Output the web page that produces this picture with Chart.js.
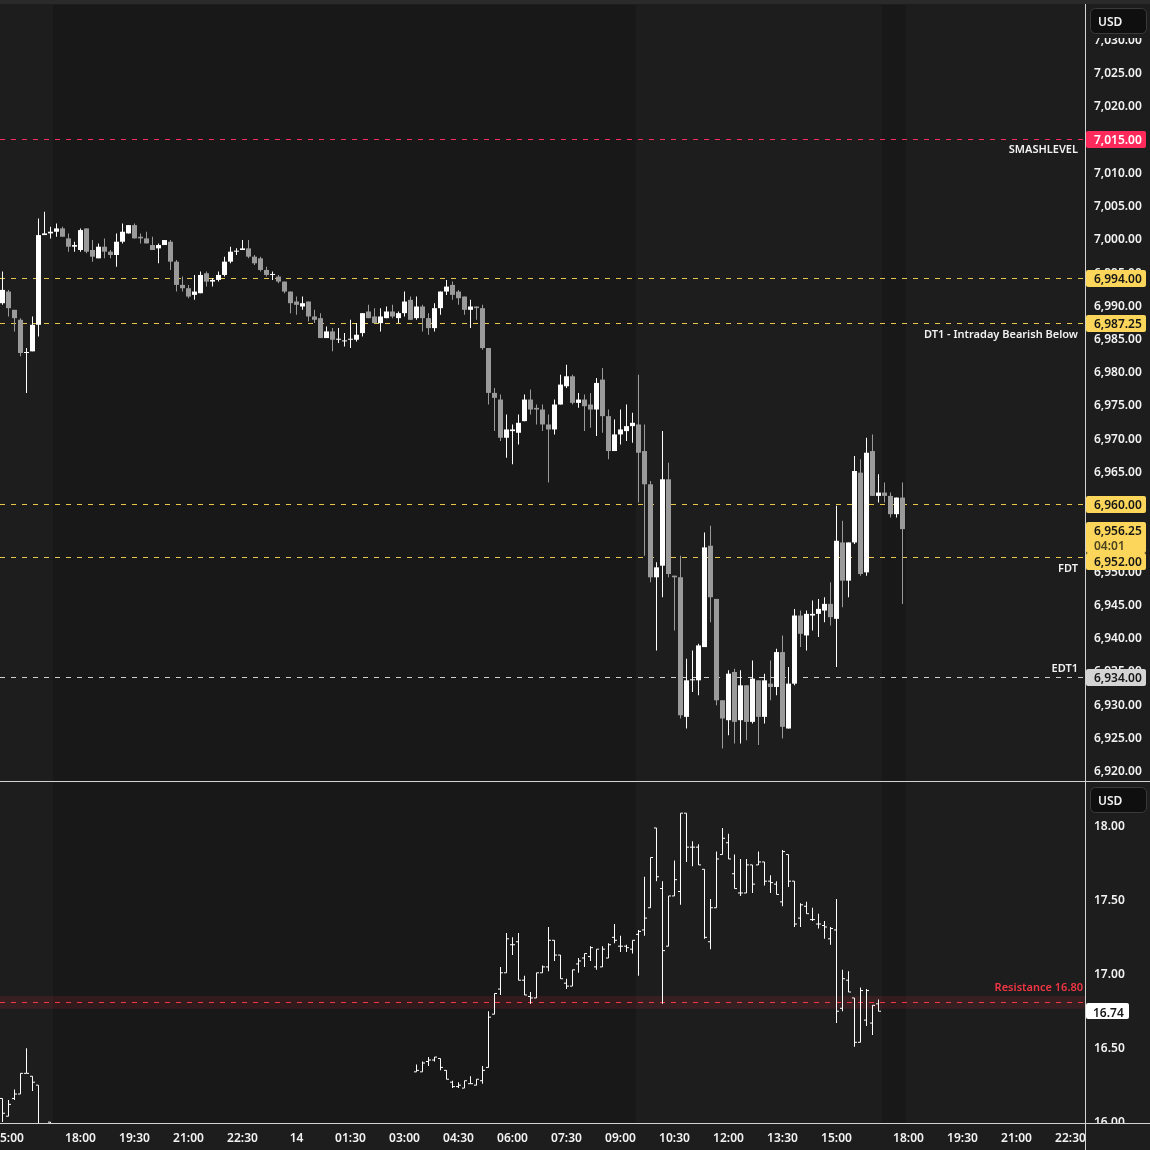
<!DOCTYPE html>
<html>
<head>
<meta charset="utf-8">
<script src="https://cdn.jsdelivr.net/npm/chart.js@4.4.1/dist/chart.umd.min.js"></script>
<style>
  html, body { margin:0; padding:0; background:#1d1d1d; }
  body { width:1150px; height:1150px; position:relative; overflow:hidden; }
  canvas { position:absolute; left:0; display:block; }
  #topChart { top:0; }
  #bottomChart { top:782px; }
</style>
</head>
<body>
<canvas id="topChart" width="1150" height="782"></canvas>
<canvas id="bottomChart" width="1150" height="368"></canvas>
<script>
// ---------------- DATA ----------------
// 10-minute bars; slot -1 = 14:50 (day 1), slot 0 = 15:00, ... consecutive slots
const firstSlot = -1;

const esOpen = [
  6990.25, 6992, 6989.25, 6987.75, 6982.75, 6983, 6987, 7000.5, 7000.75, 7001,
  7001.5, 7000, 6998.75, 6998.25, 7001.5, 6998.25, 6997, 6998.75, 6998, 6997.5,
  6999.5, 7000.75, 7002, 7000.25, 7000, 6999, 6998.5, 6999, 6999.5, 6996.5,
  6993, 6992.5, 6991.5, 6991.75, 6994.75, 6993.5, 6993.75, 6994.5, 6996.5, 6998,
  6998.25, 6998.5, 6997.25, 6997, 6995.25, 6994.5, 6994.25, 6993.5, 6992, 6990.5,
  6989.75, 6990.5, 6988.25, 6988, 6985, 6986, 6984.75, 6984.5, 6984.75, 6984.75,
  6985.75, 6989, 6988.25, 6987.25, 6988, 6989, 6988, 6988.75, 6990.75, 6988,
  6989.75, 6988, 6986.5, 6989.5, 6992, 6993, 6992, 6991.25, 6989.25, 6989.75,
  6989.5, 6983.5, 6976.75, 6975.75, 6970, 6971, 6970.75, 6972.5, 6975.75, 6974.5,
  6974.25, 6972, 6971.25, 6975, 6977.75, 6979.25, 6975.25, 6975.75, 6975, 6974.25,
  6978.75, 6973.25, 6968, 6970.5, 6971, 6971.75, 6972, 6968, 6963, 6949,
  6950.75, 6963.75, 6949.25, 6949, 6928, 6933.5, 6933.5, 6938.5, 6953.75, 6945.75,
  6930.5, 6927.5, 6934.75, 6927.5, 6932.75, 6927.25, 6933.5, 6928, 6933, 6932.5,
  6937.75, 6926.25, 6933, 6943.25, 6940.25, 6943.25, 6943.5, 6944, 6945, 6942.75,
  6954.25, 6948.5, 6954.25, 6964.75, 6949.75, 6968, 6961.25, 6961.75, 6961.25, 6958.5,
  6961
];
const esHigh = [
  6995, 6992.25, 6989.25, 6988, 6983.5, 6988.25, 7003, 7004, 7001.75, 7002.25,
  7001.75, 7000.75, 6999.5, 7001.5, 7001.5, 6999.75, 6999.25, 7000, 6998.25, 7000.75,
  7002.25, 7002, 7002.25, 7000.75, 7001, 7000.25, 6999.25, 6999.75, 6999.75, 6996.75,
  6994.25, 6993, 6994.5, 6995, 6995, 6994, 6995, 6997.25, 6998.75, 6998.5,
  6999.75, 6999.75, 6997.5, 6997.25, 6995.75, 6995, 6994.5, 6993.5, 6992, 6991.25,
  6991.25, 6990.5, 6989.25, 6988.75, 6986.75, 6986.5, 6986.5, 6985.75, 6987.75, 6987.25,
  6988.75, 6990, 6989.5, 6989.5, 6989.75, 6990, 6989, 6992, 6991.25, 6991.25,
  6990, 6988.75, 6990.25, 6992, 6993.75, 6993.5, 6992.25, 6991.25, 6990.75, 6989.75,
  6990, 6983.5, 6977.5, 6976.5, 6973.5, 6972, 6973.5, 6976.5, 6977.25, 6975,
  6975, 6973.5, 6975.75, 6979.5, 6981, 6979.5, 6976.75, 6976.5, 6976.75, 6979,
  6980.5, 6974.25, 6972.75, 6974.25, 6975, 6973.75, 6979.5, 6972, 6963.5, 6951.25,
  6971, 6966.25, 6949.25, 6952.25, 6936.75, 6938, 6939, 6955.75, 6956.75, 6945.75,
  6930.5, 6935, 6935.25, 6935, 6932.75, 6936.5, 6933.5, 6934.5, 6936.5, 6938.25,
  6940.25, 6935.5, 6944.25, 6944, 6944, 6945.5, 6945.75, 6946, 6948.25, 6959.75,
  6957.5, 6954.25, 6967.25, 6966.75, 6970, 6970.5, 6964.5, 6963.25, 6961.75, 6961,
  6963.25
];
const esLow = [
  6990, 6988.25, 6986, 6982.25, 6976.75, 6983, 6985.25, 7000.5, 7000, 7000.25,
  7000.25, 6998, 6998, 6998, 6997.75, 6996.5, 6997, 6997, 6997, 6995.75,
  6999.25, 7000.75, 7000, 6999.25, 6999.25, 6998.25, 6996.25, 6999, 6995.25, 6992,
  6992, 6991, 6990.75, 6991.75, 6992.75, 6992.75, 6993.5, 6994.25, 6996.25, 6997.5,
  6998.25, 6997, 6996, 6995, 6994.25, 6993.75, 6993.25, 6991.75, 6988.75, 6988.5,
  6989.25, 6987.5, 6987.25, 6985, 6985, 6983, 6984.25, 6983.75, 6983.5, 6984.5,
  6985.25, 6988, 6987.25, 6986, 6988, 6988, 6987.25, 6988.25, 6987.75, 6987.75,
  6986, 6985.5, 6986, 6988.5, 6991.5, 6990.75, 6990, 6988.5, 6986.5, 6987.75,
  6983.25, 6975, 6971, 6969.5, 6967, 6966, 6969, 6972.5, 6973.5, 6972,
  6971, 6963.25, 6970.5, 6975, 6977.5, 6975, 6974.5, 6971, 6971.5, 6970.25,
  6970.75, 6966.75, 6968, 6969, 6969.5, 6969.25, 6960.25, 6952.25, 6948.25, 6938,
  6946, 6949, 6941, 6927.75, 6926.25, 6931.75, 6931.25, 6938.5, 6942.25, 6929.75,
  6923.25, 6925.25, 6924, 6924, 6924.5, 6927, 6923.75, 6927, 6930.5, 6931.25,
  6924.75, 6926.25, 6932.75, 6938.5, 6938, 6941, 6940, 6942.25, 6941.75, 6935.5,
  6944.5, 6946, 6954, 6949.25, 6949.25, 6961.25, 6960.25, 6960.25, 6958, 6958,
  6945
];
const esClose = [
  6992.25, 6989.5, 6988, 6982.75, 6982.75, 6987, 7000.5, 7000.75, 7001, 7001.5,
  7000.25, 6998.75, 6999, 7001.25, 6998, 6997.25, 6998.75, 6998, 6997.5, 6999.5,
  7001, 7002, 7000, 7000, 6999.25, 6998.25, 6999, 6999.75, 6996.5, 6993,
  6992.5, 6991.25, 6992, 6994.5, 6993.5, 6993.75, 6994.5, 6996.5, 6998, 6998,
  6998.5, 6997.25, 6996.25, 6995.25, 6994.5, 6994.5, 6993.5, 6992, 6990.25, 6990,
  6990.25, 6988.25, 6987.75, 6985, 6986, 6984.75, 6984.75, 6984.5, 6984.75, 6985.5,
  6988.75, 6988, 6987.25, 6988.25, 6989, 6988.25, 6988.75, 6990.5, 6987.75, 6989.75,
  6988, 6986.5, 6989.5, 6992, 6992.75, 6991.5, 6991, 6989.25, 6989.75, 6989.5,
  6983.5, 6976.75, 6976, 6970, 6971.25, 6971.25, 6972.25, 6975.75, 6974.25, 6974.25,
  6972, 6971.25, 6975, 6978, 6979.25, 6975.25, 6975.75, 6974.75, 6974.25, 6978.25,
  6973.25, 6968, 6970.5, 6971.25, 6971.75, 6972.25, 6967.75, 6963, 6949, 6950.5,
  6963.75, 6949.5, 6949, 6928.25, 6933.5, 6933.5, 6938.75, 6953.5, 6946, 6930.5,
  6927.75, 6934.5, 6927.25, 6932.75, 6927.25, 6933.75, 6928, 6933.5, 6932.5, 6937.75,
  6926.5, 6933, 6943.25, 6940.5, 6943.5, 6943.5, 6944.25, 6945, 6943, 6954.5,
  6948.5, 6954.25, 6965, 6949.5, 6967.75, 6961.25, 6961.75, 6961.25, 6958.5, 6961,
  6956.25
];

// Lower pane (same slots as above; null = no bar)
const vixOpen = [
  16.15, 16.03, 16.15, 16.18, 16.32, 16.30, 16.24, 15.96, 15.99,
  null, null, null, null, null, null, null, null, null, null,
  null, null, null, null, null, null, null, null, null, null,
  null, null, null, null, null, null, null, null, null, null,
  null, null, null, null, null, null, null, null, null, null,
  null, null, null, null, null, null, null, null, null, null,
  null, null, null, null, null, null, null, null, null, null,
  16.33, 16.33, 16.40, 16.41, 16.42, 16.34, 16.26, 16.23, 16.22, 16.25, 16.24, 16.27,
  16.36, 16.72, 16.89, 17.00, 17.19, 17.21, 16.95, 16.84, 16.83, 17.00,
  17.04, 17.22, 17.12, 16.93, 16.91, 17.06, 17.10, 17.11, 17.04, 17.04,
  17.10, 17.24, 17.18, 17.18, 17.16, 17.26, 17.29, 17.44, 17.98, 17.57,
  17.18, 17.52, 17.55, 18.08, 17.85, 17.85, 17.70, 17.21, 17.44, 17.80,
  17.88, 17.67, 17.54, 17.54, 17.73, 17.73, 17.75, 17.62, 17.60, 17.48,
  17.80, 17.62, 17.37, 17.45, 17.36, 17.33, 17.32, 17.23, 17.29, 16.76,
  16.95, 16.83, 16.53, 16.68, 16.66, 16.79,
  null, null, null, null
];
const vixHigh = [
  16.15, 16.14, 16.21, 16.32, 16.49, 16.30, 16.24, 15.97, 15.99,
  null, null, null, null, null, null, null, null, null, null,
  null, null, null, null, null, null, null, null, null, null,
  null, null, null, null, null, null, null, null, null, null,
  null, null, null, null, null, null, null, null, null, null,
  null, null, null, null, null, null, null, null, null, null,
  null, null, null, null, null, null, null, null, null, null,
  16.38, 16.40, 16.43, 16.43, 16.42, 16.34, 16.27, 16.26, 16.27, 16.30, 16.28, 16.37,
  16.74, 16.86, 17.04, 17.27, 17.24, 17.27, 16.98, 16.87, 17.00, 17.05,
  17.31, 17.22, 17.12, 16.96, 17.02, 17.10, 17.13, 17.18, 17.16, 17.18,
  17.20, 17.33, 17.25, 17.19, 17.22, 17.29, 17.65, 17.78, 17.98, 17.62,
  17.52, 17.76, 18.08, 18.08, 17.89, 17.87, 17.70, 17.50, 17.82, 17.98,
  17.94, 17.80, 17.77, 17.77, 17.73, 17.82, 17.75, 17.66, 17.62, 17.83,
  17.80, 17.62, 17.47, 17.48, 17.44, 17.40, 17.35, 17.31, 17.50, 17.02,
  17.01, 16.83, 16.90, 16.89, 16.78, 16.82,
  null, null, null, null
];
const vixLow = [
  15.99, 16.03, 16.14, 16.18, 16.32, 16.20, 15.90, 15.93, 15.95,
  null, null, null, null, null, null, null, null, null, null,
  null, null, null, null, null, null, null, null, null, null,
  null, null, null, null, null, null, null, null, null, null,
  null, null, null, null, null, null, null, null, null, null,
  null, null, null, null, null, null, null, null, null, null,
  null, null, null, null, null, null, null, null, null, null,
  16.33, 16.33, 16.37, 16.40, 16.34, 16.28, 16.22, 16.22, 16.22, 16.25, 16.24, 16.25,
  16.36, 16.72, 16.85, 17.00, 17.12, 16.95, 16.85, 16.79, 16.83, 17.00,
  17.01, 17.08, 16.96, 16.89, 16.91, 17.00, 17.04, 17.08, 17.02, 17.04,
  17.10, 17.20, 17.14, 17.14, 17.13, 16.98, 17.25, 17.44, 17.62, 16.79,
  17.18, 17.52, 17.46, 17.75, 17.72, 17.73, 17.23, 17.16, 17.44, 17.80,
  17.77, 17.57, 17.52, 17.54, 17.54, 17.73, 17.59, 17.54, 17.53, 17.45,
  17.58, 17.31, 17.31, 17.40, 17.35, 17.30, 17.23, 17.19, 16.66, 16.74,
  16.87, 16.50, 16.53, 16.64, 16.58, 16.74,
  null, null, null, null
];
const vixClose = [
  16.05, 16.11, 16.18, 16.32, 16.32, 16.26, 15.96, 15.95, 15.97,
  null, null, null, null, null, null, null, null, null, null,
  null, null, null, null, null, null, null, null, null, null,
  null, null, null, null, null, null, null, null, null, null,
  null, null, null, null, null, null, null, null, null, null,
  null, null, null, null, null, null, null, null, null, null,
  null, null, null, null, null, null, null, null, null, null,
  16.34, 16.39, 16.41, 16.43, 16.36, 16.28, 16.23, 16.24, 16.27, 16.25, 16.28, 16.34,
  16.70, 16.86, 17.00, 17.23, 17.19, 16.95, 16.85, 16.83, 17.00, 17.04,
  17.22, 17.12, 16.96, 16.91, 17.02, 17.08, 17.13, 17.17, 17.16, 17.16,
  17.19, 17.22, 17.18, 17.17, 17.22, 17.28, 17.37, 17.78, 17.65, 17.15,
  17.52, 17.63, 18.08, 17.85, 17.85, 17.73, 17.24, 17.44, 17.77, 17.91,
  17.77, 17.57, 17.54, 17.73, 17.60, 17.75, 17.62, 17.61, 17.53, 17.82,
  17.62, 17.33, 17.46, 17.40, 17.36, 17.33, 17.31, 17.30, 16.74, 16.96,
  16.87, 16.53, 16.88, 16.88, 16.78, 16.74,
  null, null, null, null
];

const timeTickSlots  = [0, 12, 21, 30, 39, 48, 57, 66, 75, 84, 93, 102, 111, 120, 129, 138, 150, 159, 168, 177];
const timeTickLabels = ['15:00','18:00','19:30','21:00','22:30','14','01:30','03:00','04:30','06:00','07:30','09:00','10:30','12:00','13:30','15:00','18:00','19:30','21:00','22:30'];

const esLevels      = [7015, 6994, 6987.25, 6960, 6952, 6934];
const esLevelNames  = ['SMASHLEVEL', '', 'DT1 - Intraday Bearish Below', '', 'FDT', 'EDT1'];
const esLastPrice   = 6956.25;
const barCountdown  = '04:01';
const vixResistance = 16.80;
const vixResistanceName = 'Resistance 16.80';
const vixLastPrice  = 16.74;
const currencyLabel = 'USD';
// extended-hours bar ranges (in slots) shaded darker
const extendedSessions = [[7.5, 104.5], [145.5, 149.5]];

// ---------------- STYLE ----------------
const ST = {
  bg: '#1d1d1d', bgExt: '#181818', strip: '#2a2a2a',
  up: '#ffffff', down: '#9a9a9a', text: '#f2f2f2', border: '#d2d2d2',
  levelLine: ['#ff2d5f', '#e8c64a', '#e8c64a', '#e8c64a', '#e8c64a', '#cfcfcf'],
  levelBox:  ['#ff2a5c', '#fbd65a', '#fbd65a', '#fbd65a', '#fbd65a', '#d4d4d4'],
  levelBoxText: ['#ffffff', '#161616', '#161616', '#161616', '#161616', '#161616'],
  levelNameAbove: [false, false, false, false, false, true],
  red: '#f23645', font: '"Noto Sans", "DejaVu Sans", sans-serif',
  textDy: 1.5
};

Chart.defaults.font.family = ST.font;
Chart.defaults.font.size = 12;

function fmtPrice(v) {
  const p = v.toFixed(2).split('.');
  return p[0].replace(/\B(?=(\d{3})+(?!\d))/g, ',') + '.' + p[1];
}
const slots = esOpen.map((_, k) => firstSlot + k);
const X_MIN = -8.5 / 6, X_MAX = -8.5 / 6 + 1085 / 6;

function box(ctx, x, y, w, h, r, fill, stroke) {
  ctx.beginPath(); ctx.roundRect(x, y, w, h, r);
  ctx.fillStyle = fill; ctx.fill();
  if (stroke) { ctx.strokeStyle = stroke; ctx.lineWidth = 1; ctx.stroke(); }
}
function usdBox(ctx, top) {
  box(ctx, 1090.5, top + 0.5, 56, 25, 5, '#0f0f0f', '#3a3a3a');
  ctx.fillStyle = ST.text; ctx.font = '600 12px ' + ST.font;
  ctx.textAlign = 'left'; ctx.textBaseline = 'middle';
  ctx.fillText(currencyLabel, 1098, top + 13 + ST.textDy);
}

const sessionShade = {
  id: 'sessionShade',
  beforeDraw(chart) {
    const { ctx, chartArea: a, scales: { x } } = chart;
    ctx.save();
    ctx.fillStyle = ST.bg; ctx.fillRect(0, 0, chart.width, chart.height);
    ctx.fillStyle = ST.bgExt;
    extendedSessions.forEach(([s, e]) => {
      const x0 = Math.max(a.left, Math.round(x.getPixelForValue(s)));
      const x1 = Math.min(a.right, Math.round(x.getPixelForValue(e)));
      if (x1 > x0) ctx.fillRect(x0, a.top, x1 - x0, a.bottom - a.top);
    });
    ctx.restore();
  }
};

const yAxisFit = s => { s.width = 65; s.paddingTop = 0; s.paddingBottom = 0; };

// ---------------- TOP PANE ----------------
const candleColors = esClose.map((c, k) => c >= esOpen[k] ? ST.up : ST.down);

const topDecor = {
  id: 'topDecor',
  beforeDatasetsDraw(chart) {
    const { ctx, chartArea: a, scales: { y } } = chart;
    ctx.save(); ctx.lineWidth = 1; ctx.setLineDash([5, 6]);
    esLevels.forEach((v, k) => {
      const py = Math.round(y.getPixelForValue(v)) + 0.5;
      ctx.strokeStyle = ST.levelLine[k];
      ctx.beginPath(); ctx.moveTo(a.left, py); ctx.lineTo(a.right, py); ctx.stroke();
    });
    ctx.restore();
  },
  afterDraw(chart) {
    const { ctx, chartArea: a, scales: { y } } = chart;
    ctx.save();
    // level names
    ctx.font = '600 11px ' + ST.font; ctx.textAlign = 'right'; ctx.textBaseline = 'middle';
    ctx.fillStyle = ST.text;
    esLevels.forEach((v, k) => {
      if (!esLevelNames[k]) return;
      const py = y.getPixelForValue(v);
      ctx.fillText(esLevelNames[k], a.right - 7, py + (ST.levelNameAbove[k] ? -10 : 10) + ST.textDy);
    });
    // axis cover at top
    ctx.fillStyle = ST.bg; ctx.fillRect(a.right + 1, 0, chart.width - a.right, 38);
    // price boxes with simple collision push-down
    const items = esLevels.map((v, k) => ({ top: Math.round(y.getPixelForValue(v)) - 8, h: 17,
      fill: ST.levelBox[k], lines: [[fmtPrice(v), ST.levelBoxText[k]]] }));
    items.push({ top: Math.round(y.getPixelForValue(esLastPrice)) - 7, h: 31, fill: ST.levelBox[1],
      lines: [[fmtPrice(esLastPrice), '#161616'], [barCountdown, '#4d4520']] });
    items.sort((p, q) => p.top - q.top);
    let prevBottom = -1e9;
    ctx.font = '600 12px ' + ST.font; ctx.textAlign = 'left';
    items.forEach(it => {
      if (it.top < prevBottom) it.top = prevBottom;
      prevBottom = it.top + it.h;
      box(ctx, a.right + 1, it.top, 60, it.h, 2, it.fill);
      it.lines.forEach(([t, c], j) => { ctx.fillStyle = c; ctx.fillText(t, a.right + 9, it.top + 8.5 + j * 15 + ST.textDy); });
    });
    // borders
    ctx.fillStyle = ST.strip; ctx.fillRect(0, 0, chart.width, 4);
    ctx.fillStyle = ST.border;
    ctx.fillRect(a.right, 4, 1, chart.height - 4);
    ctx.fillRect(0, a.bottom, chart.width, 1);
    usdBox(ctx, 8);
    ctx.restore();
  }
};

new Chart(document.getElementById('topChart'), {
  type: 'bar',
  data: {
    datasets: [
      { label: 'body', data: slots.map((s, k) => ({ x: s, y: [esOpen[k], esClose[k]] })),
        backgroundColor: candleColors, barThickness: 5, minBarLength: 1, grouped: false,
        inflateAmount: 0, borderWidth: 0, order: 1 },
      { label: 'wick', data: slots.map((s, k) => ({ x: s, y: [esLow[k], esHigh[k]] })),
        backgroundColor: candleColors, barThickness: 1, grouped: false,
        inflateAmount: 0, borderWidth: 0, order: 2 }
    ]
  },
  options: {
    responsive: false, animation: false, devicePixelRatio: 1,
    layout: { autoPadding: false, padding: { top: 5, bottom: 1, left: 0, right: 0 } },
    plugins: { legend: { display: false }, tooltip: { enabled: false } },
    scales: {
      x: { type: 'linear', min: X_MIN, max: X_MAX, display: false, offset: false },
      y: {
        position: 'right', min: 6918.35, max: 7035.12, beginAtZero: false,
        grid: { display: false, drawTicks: false }, border: { display: false },
        ticks: { stepSize: 5, includeBounds: false, color: ST.text, padding: 9, labelOffset: ST.textDy,
                 autoSkip: false, font: { weight: '600' }, callback: v => fmtPrice(v) },
        afterFit: yAxisFit
      }
    }
  },
  plugins: [sessionShade, topDecor]
});

// ---------------- BOTTOM PANE ----------------
const vixAt = (arr) => slots.map((s, k) => arr[k] === null ? null : { x: s, y: arr[k] }).filter(p => p);

const bottomDecor = {
  id: 'bottomDecor',
  beforeDatasetsDraw(chart) {
    const { ctx, chartArea: a, scales: { y } } = chart;
    ctx.save();
    const yt = y.getPixelForValue(vixResistance + 0.043), yb = y.getPixelForValue(vixResistance - 0.043);
    ctx.fillStyle = 'rgba(242,54,69,0.13)';
    ctx.fillRect(a.left, yt, a.right - a.left, yb - yt);
    const py = Math.round(y.getPixelForValue(vixResistance)) + 0.5;
    ctx.strokeStyle = ST.red; ctx.lineWidth = 1; ctx.setLineDash([5, 6]);
    ctx.beginPath(); ctx.moveTo(a.left, py); ctx.lineTo(a.right, py); ctx.stroke();
    ctx.restore();
  },
  afterDraw(chart) {
    const { ctx, chartArea: a, scales: { x, y } } = chart;
    ctx.save();
    const py = y.getPixelForValue(vixResistance);
    ctx.font = '600 11px ' + ST.font; ctx.textAlign = 'right'; ctx.textBaseline = 'middle';
    ctx.fillStyle = ST.red; ctx.fillText(vixResistanceName, a.right - 2, py - 16 + ST.textDy);
    // cover axis below pane
    ctx.fillStyle = ST.bg; ctx.fillRect(a.right + 1, a.bottom, chart.width - a.right, chart.height - a.bottom);
    // time labels
    ctx.font = '600 12px ' + ST.font; ctx.textAlign = 'center'; ctx.fillStyle = ST.text;
    timeTickSlots.forEach((s, k) => ctx.fillText(timeTickLabels[k], x.getPixelForValue(s), a.bottom + 14 + ST.textDy));
    // last value box
    const lp = y.getPixelForValue(vixLastPrice);
    box(ctx, a.right + 1, Math.round(lp) - 8, 43, 16, 2, '#ffffff');
    ctx.textAlign = 'left';
    ctx.fillStyle = '#161616'; ctx.fillText(vixLastPrice.toFixed(2), a.right + 8, lp + 0.5 + ST.textDy);
    // borders
    ctx.fillStyle = ST.border;
    ctx.fillRect(a.right, 0, 1, chart.height);
    ctx.fillRect(0, a.bottom, chart.width, 1);
    usdBox(ctx, 5);
    ctx.restore();
  }
};

new Chart(document.getElementById('bottomChart'), {
  type: 'bar',
  data: {
    datasets: [
      { type: 'bar', label: 'range',
        data: slots.map((s, k) => vixLow[k] === null ? null : ({ x: s, y: [vixLow[k], vixHigh[k]] })).filter(p => p),
        backgroundColor: '#ffffff', barThickness: 1, minBarLength: 1, grouped: false, inflateAmount: 0, borderWidth: 0 },
      { type: 'line', label: 'open', data: vixAt(vixOpen), showLine: false,
        pointStyle: 'dash', pointRotation: 180, pointRadius: 2.5, pointBorderWidth: 1,
        pointBorderColor: '#ffffff', pointBackgroundColor: '#ffffff', pointHoverRadius: 0 },
      { type: 'line', label: 'close', data: vixAt(vixClose), showLine: false,
        pointStyle: 'dash', pointRotation: 0, pointRadius: 2.5, pointBorderWidth: 1,
        pointBorderColor: '#ffffff', pointBackgroundColor: '#ffffff', pointHoverRadius: 0 }
    ]
  },
  options: {
    responsive: false, animation: false, devicePixelRatio: 1,
    layout: { autoPadding: false, padding: { top: 1, bottom: 0, left: 0, right: 0 } },
    plugins: { legend: { display: false }, tooltip: { enabled: false } },
    scales: {
      x: {
        type: 'linear', position: 'bottom', min: X_MIN, max: X_MAX, offset: false,
        grid: { display: false, drawTicks: false }, border: { display: false },
        ticks: { display: false },
        afterFit: s => { s.height = 27; s.paddingLeft = 0; s.paddingRight = 0; }
      },
      y: {
        position: 'right', min: 15.984, max: 18.284, beginAtZero: false,
        grid: { display: false, drawTicks: false }, border: { display: false },
        ticks: { stepSize: 0.5, includeBounds: false, color: ST.text, padding: 9, labelOffset: ST.textDy,
                 autoSkip: false, font: { weight: '600' }, callback: v => v.toFixed(2) },
        afterFit: yAxisFit
      }
    }
  },
  plugins: [sessionShade, bottomDecor]
});
</script>
</body>
</html>
